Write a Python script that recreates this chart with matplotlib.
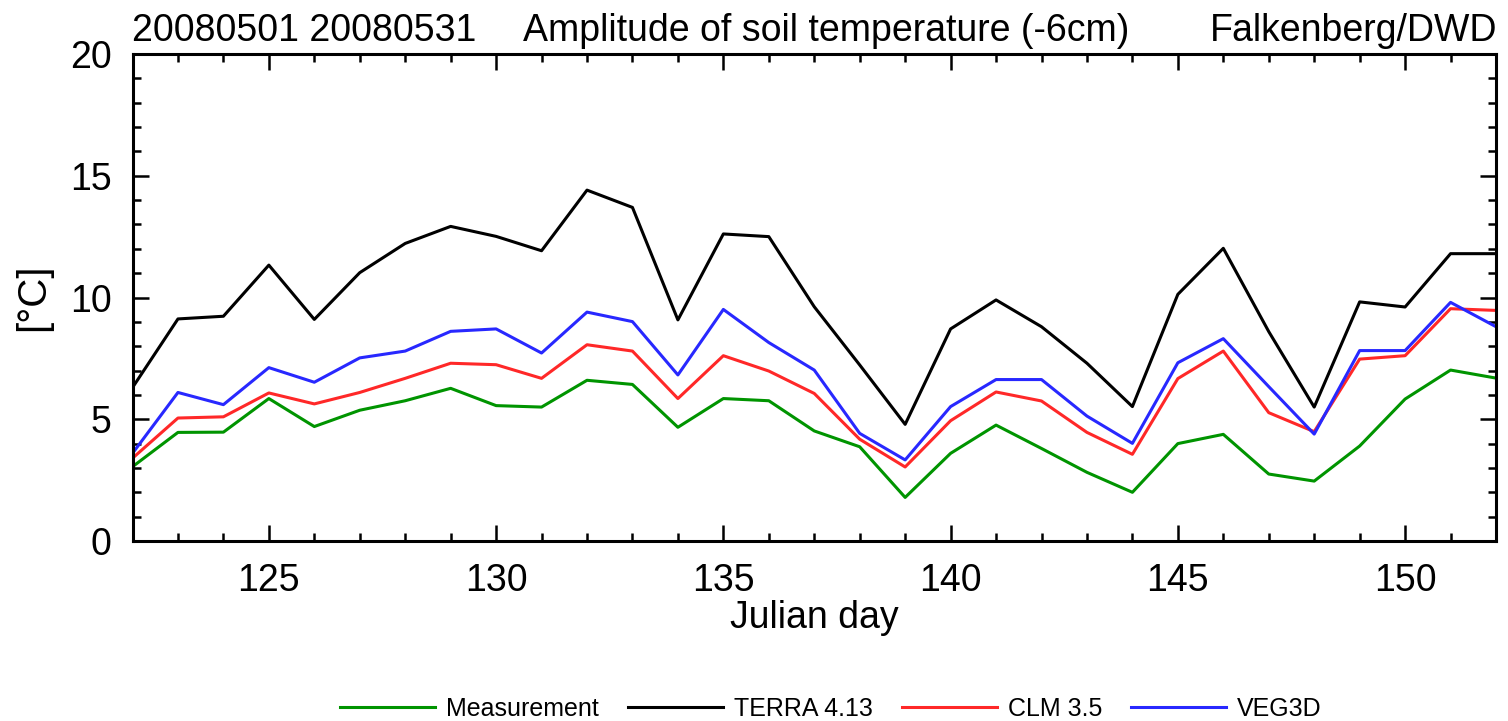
import matplotlib
matplotlib.use("Agg")
import matplotlib.pyplot as plt
from matplotlib.ticker import MultipleLocator

plt.rcParams["font.family"] = ["Liberation Sans", "DejaVu Sans"]

days = list(range(122, 153))
measurement = [3.05, 4.46, 4.47, 5.85, 4.70, 5.37, 5.76, 6.27, 5.56, 5.50, 6.60,
               6.43, 4.67, 5.85, 5.76, 4.52, 3.87, 1.79, 3.60, 4.76, 3.80,
               2.82, 2.00, 4.00, 4.38, 2.75, 2.46, 3.90, 5.83, 7.02, 6.69]
terra = [6.30, 9.12, 9.23, 11.33, 9.10, 11.02, 12.22, 12.92, 12.51, 11.92, 14.41,
         13.70, 9.08, 12.61, 12.50, 9.62, 7.23, 4.79, 8.71, 9.90, 8.80,
         7.30, 5.52, 10.13, 12.02, 8.60, 5.50, 9.82, 9.61, 11.80, 11.80]
clm = [3.40, 5.05, 5.10, 6.08, 5.63, 6.10, 6.68, 7.30, 7.24, 6.68, 8.06,
       7.80, 5.85, 7.61, 6.98, 6.06, 4.18, 3.04, 4.94, 6.12, 5.75,
       4.46, 3.56, 6.67, 7.80, 5.27, 4.49, 7.47, 7.61, 9.54, 9.47]
veg3d = [3.60, 6.10, 5.60, 7.12, 6.52, 7.52, 7.80, 8.61, 8.71, 7.72, 9.40,
         9.01, 6.82, 9.51, 8.15, 7.02, 4.42, 3.33, 5.52, 6.63, 6.63,
         5.13, 4.01, 7.32, 8.31, 6.34, 4.39, 7.82, 7.82, 9.80, 8.80]

series = [("Measurement", measurement, "#009400"),
          ("TERRA 4.13", terra, "black"),
          ("CLM 3.5", clm, "#ff2828"),
          ("VEG3D", veg3d, "#2828ff")]

fig = plt.figure(figsize=(15.08, 7.21), dpi=100)
ax = fig.add_axes([132.5 / 1508, 1 - 541 / 721, (1496 - 132.5) / 1508, (541 - 54) / 721])

for name, vals, col in series:
    ax.plot(days, vals, color=col, lw=2.2, label=name)

ax.set_xlim(122, 152)
ax.set_ylim(0, 20)
ax.xaxis.set_major_locator(MultipleLocator(5))
ax.xaxis.set_minor_locator(MultipleLocator(1))
ax.yaxis.set_major_locator(MultipleLocator(5))
ax.yaxis.set_minor_locator(MultipleLocator(1))
ax.tick_params(which="both", direction="in", top=True, right=True, width=1.8)
ax.tick_params(which="major", length=11.5, labelsize=27)
ax.tick_params(which="minor", length=5.8)
ax.tick_params(axis="x", which="major", pad=16)
ax.tick_params(axis="y", which="major", pad=15)
for s in ax.spines.values():
    s.set_linewidth(2.2)

ax.set_xlabel("Julian day", fontsize=27)
ax.xaxis.set_label_coords(0.5, -0.122)
ax.set_ylabel("[°C]", fontsize=29)
ax.yaxis.set_label_coords(-0.059, 0.5)

fig.text(132 / 1508, 1 - 41 / 721, "20080501 20080531", fontsize=27, ha="left", va="baseline")
fig.text(523 / 1508, 1 - 41 / 721, "Amplitude of soil temperature (-6cm)", fontsize=27,
         ha="left", va="baseline")
fig.text(1497 / 1508, 1 - 41 / 721, "Falkenberg/DWD", fontsize=27, ha="right", va="baseline")

fig.legend(loc="center", bbox_to_anchor=(831 / 1508, 1 - 709 / 721), ncol=4, frameon=False,
           fontsize=18, handlelength=3.8, handletextpad=0.45, columnspacing=1.15,
           borderpad=0)

fig.savefig("out.png", dpi=100, facecolor="white")
